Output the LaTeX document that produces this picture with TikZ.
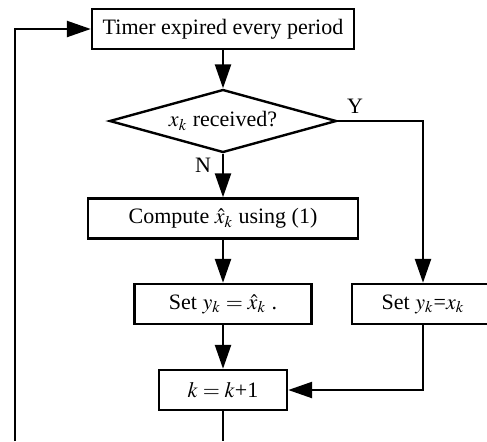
\documentclass[tikz,border=0pt]{standalone}
\usepackage{mathptmx}
\usepackage{fontspec}
\setmainfont{Liberation Serif}
\usetikzlibrary{positioning,shapes.geometric,arrows.meta}

\begin{document}
\begin{tikzpicture}[x=0.5pt,y=-0.5pt,line width=1.2pt,font=\fontsize{11}{13}\selectfont,
    box/.style={draw,rectangle,minimum height=20pt,inner sep=0pt},
    test/.style={draw,diamond,aspect=3.6,inner sep=0pt,minimum width=113.5pt,minimum height=31.5pt},
    flow/.style={-{Triangle[length=12pt,width=8pt]}}]
\useasboundingbox (0,0) rectangle (487,441);
\node[box,minimum width=131pt] (timer) at (223,29) {Timer expired every period};
\node[test] (recv) at (223,121) {$x_k$ received?};
\node[box,minimum width=135pt] (comp) at (223,218.5) {Compute $\hat{x}_k$ using (1)};
\node[box,minimum width=88.5pt] (est) at (223,304) {Set $y_k=\hat{x}_k$ .};
\node[box,minimum width=71pt] (meas) at (423,304) {Set $y_k$=$x_k$};
\node[box,minimum width=64pt] (kinc) at (223,390) {$k=k$+1};
\node (yes) at (355,106) {Y};
\node (no) at (203,165) {N};
% loop back to the timer, open at the lower edge
\coordinate (down) at (223,441);
\coordinate (up) at (15,441);

\draw[flow] (timer) -- (recv);
\draw[flow] (recv) -- (comp);
\draw[flow] (comp) -- (est);
\draw[flow] (est) -- (kinc);
\draw[flow] (recv.east) -| (meas);
\draw[flow] (meas) |- (kinc);
\draw (kinc) -- (down);
\draw[flow] (up) |- (timer);
\end{tikzpicture}
\end{document}
